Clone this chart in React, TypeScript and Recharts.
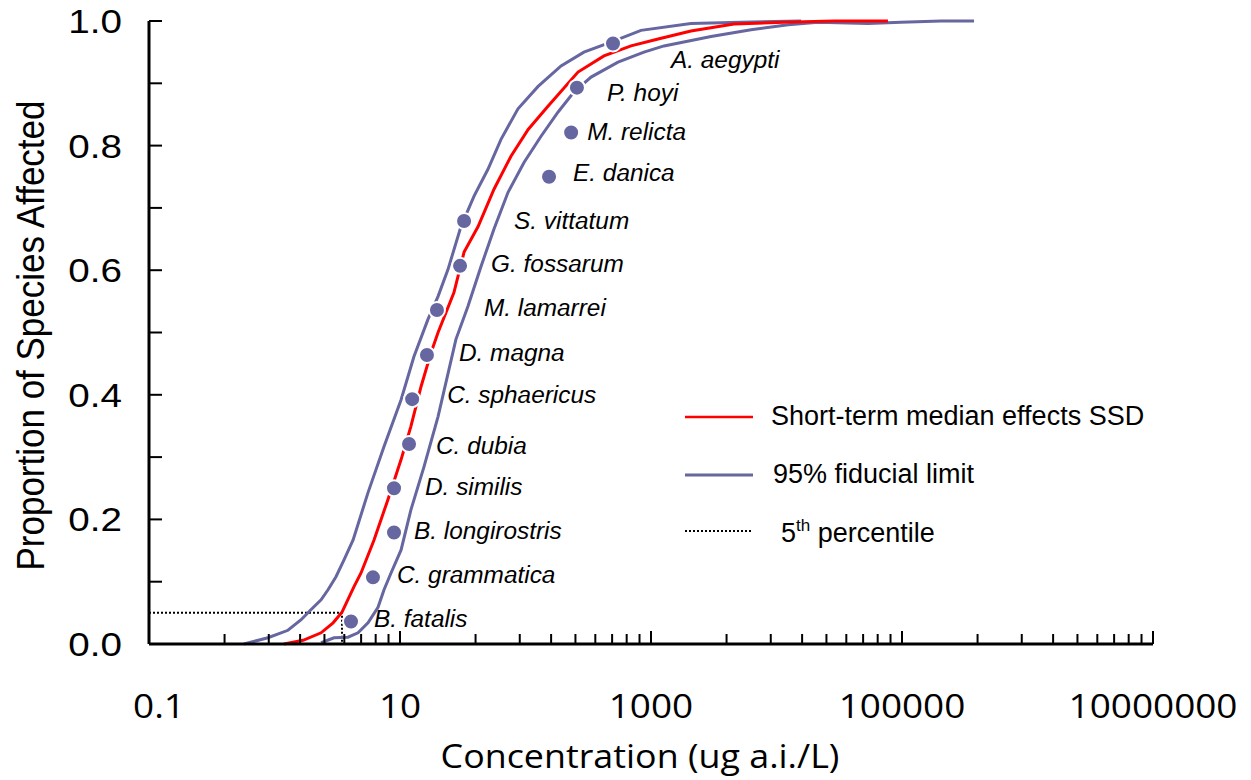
import {
  ComposedChart,
  Line,
  Scatter,
  XAxis,
  YAxis,
  Legend,
  Label,
} from "recharts";

// species toxicity points (ug a.i./L) and plotting positions
const speciesNames = [
  "B. fatalis",
  "C. grammatica",
  "B. longirostris",
  "D. similis",
  "C. dubia",
  "C. sphaericus",
  "D. magna",
  "M. lamarrei",
  "G. fossarum",
  "S. vittatum",
  "E. danica",
  "M. relicta",
  "P. hoyi",
  "A. aegypti",
];
const speciesConc = [4.07, 6.09, 8.96, 8.96, 11.8, 12.5, 16.4, 19.7, 30.1, 32.4, 154, 231, 257, 498];
const speciesFrac = [0.036, 0.107, 0.179, 0.25, 0.321, 0.393, 0.464, 0.536, 0.607, 0.679, 0.75, 0.821, 0.893, 0.964];

// label offsets from each point (px)
const labelDx = [23, 24, 20, 31, 27, 35, 32, 47, 31, 50, 24, 16, 30, 58];
const labelDy = [-3, -2, -1, -1, 2, -4, -2, -2, -2, 0, -4, -1, 5, 17];

// median SSD curve
const medianConc = [1.19, 1.69, 2.35, 2.93, 3.45, 4.3, 4.89, 6.21, 8.02, 10.2, 12.2, 14.7, 17.7, 20.1, 26.9, 32.4, 41.9, 56.1, 76.6, 105, 151, 262, 422, 693, 1140, 2080, 4590, 11500, 28700, 77300];
const medianFrac = [0, 0.006, 0.018, 0.034, 0.051, 0.092, 0.114, 0.167, 0.232, 0.296, 0.349, 0.413, 0.468, 0.5, 0.564, 0.629, 0.67, 0.73, 0.783, 0.826, 0.863, 0.918, 0.944, 0.96, 0.971, 0.984, 0.995, 0.998, 1.0, 1.0];

// fiducial limits
const leftConc = [0.571, 0.887, 1.28, 1.63, 1.95, 2.35, 2.67, 3.09, 3.58, 4.23, 5.56, 7.46, 10.2, 12.9, 16.7, 20.1, 24.1, 30.6, 38.9, 50.2, 63.8, 87.1, 126, 192, 292, 480, 832, 2080, 5210, 15700];
const leftFrac = [0, 0.01, 0.022, 0.039, 0.055, 0.071, 0.087, 0.108, 0.135, 0.167, 0.243, 0.317, 0.392, 0.461, 0.521, 0.558, 0.601, 0.67, 0.719, 0.762, 0.81, 0.859, 0.895, 0.928, 0.95, 0.966, 0.985, 0.996, 0.998, 1.0];

const rightConc = [2.35, 2.98, 3.85, 4.63, 5.56, 6.68, 7.46, 8.48, 10.2, 12.2, 15.5, 20.1, 27.9, 34.8, 44.2, 56.1, 72.6, 97.3, 133, 182, 243, 333, 546, 879, 1270, 3010, 6270, 12400, 21400, 53600, 98000, 205000, 375000];
const rightFrac = [0.002, 0.01, 0.011, 0.018, 0.034, 0.059, 0.087, 0.114, 0.151, 0.215, 0.284, 0.365, 0.489, 0.542, 0.606, 0.666, 0.725, 0.773, 0.815, 0.854, 0.886, 0.91, 0.934, 0.95, 0.96, 0.975, 0.986, 0.994, 0.998, 0.996, 0.998, 1.0, 1.0];

// 5th percentile (HC5)
const hc5Conc = 3.45;
const hc5Frac = 0.05;

const majorTicks = [0.1, 10, 1000, 100000, 10000000];
const minorFactors = [4, 9, 16, 25, 36, 49, 64, 81];
const yTicks = [0, 0.1, 0.2, 0.3, 0.4, 0.5, 0.6, 0.7, 0.8, 0.9, 1.0];

const BLUE = "#6666A0";
const RED = "#FF0000";

const toPoints = (xs: number[], ys: number[]) => xs.map((x, i) => ({ x, y: ys[i] }));

const medianData = toPoints(medianConc, medianFrac);
const leftData = toPoints(leftConc, leftFrac);
const rightData = toPoints(rightConc, rightFrac);
const speciesData = speciesConc.map((x, i) => ({ x, y: speciesFrac[i], name: speciesNames[i] }));
const hc5Data = [
  { x: 0.1, y: hc5Frac },
  { x: hc5Conc, y: hc5Frac },
  { x: hc5Conc, y: 0 },
];

const xTicks = [
  ...majorTicks,
  ...majorTicks.slice(0, -1).flatMap((m) => minorFactors.map((f) => m * f)),
].sort((a, b) => a - b);

const isMajor = (v: number) => majorTicks.some((m) => Math.abs(m - v) / m < 1e-6);

function XTick({ x, y, payload }: any) {
  const v = payload.value;
  const major = isMajor(v);
  const tx = x + (v === 0.1 ? 10 : 0);
  return (
    <g>
      <line x1={x} x2={x} y1={y} y2={y - (major ? 13 : 10)} stroke="#000" strokeWidth={2} />
      {major && (
        <text
          transform={`translate(${tx}, ${y + 74}) scale(1.12, 1)`}
          textAnchor="middle"
          fontFamily="Open Sans"
          fontSize={33}
          fill="#000"
        >
          {String(v)}
        </text>
      )}
    </g>
  );
}

function YTick({ x, y, payload }: any) {
  const v = payload.value;
  const labeled = Math.round(v * 10) % 2 === 0;
  return (
    <g>
      <line x1={x} x2={x + 13} y1={y} y2={y} stroke="#000" strokeWidth={2} />
      {labeled && (
        <text
          transform={`translate(${x - 27}, ${y + 12}) scale(1.17, 1)`}
          textAnchor="end"
          fontFamily="Liberation Sans"
          fontSize={33}
          fill="#000"
        >
          {v.toFixed(1)}
        </text>
      )}
    </g>
  );
}

function SpeciesDot(props: any) {
  const { cx, cy, payload } = props;
  const i = speciesNames.indexOf(payload.name);
  return (
    <g>
      <circle cx={cx} cy={cy} r={8} fill={BLUE} stroke="#fff" strokeWidth={2} />
      <text
        transform={`translate(${cx + labelDx[i]}, ${cy + labelDy[i] + 8}) scale(1.06, 1)`}
        fontFamily="Liberation Sans"
        fontStyle="italic"
        fontSize={23}
        fill="#000"
      >
        {payload.name}
      </text>
    </g>
  );
}

function LegendBox() {
  return (
    <svg width={520} height={170}>
      <line x1={15} x2={83} y1={27} y2={27} stroke={RED} strokeWidth={2.5} />
      <text x={101} y={35} fontFamily="Liberation Sans" fontSize={27} fill="#000">
        Short-term median effects SSD
      </text>
      <line x1={15} x2={83} y1={85} y2={85} stroke={BLUE} strokeWidth={3} />
      <text x={103} y={93} fontFamily="Liberation Sans" fontSize={27} fill="#000">
        95% fiducial limit
      </text>
      <line x1={15} x2={83} y1={141} y2={141} stroke="#000" strokeWidth={2} strokeDasharray="2 2" />
      <text x={111} y={152} fontFamily="Liberation Sans" fontSize={27} fill="#000">
        5
        <tspan fontSize={17} dy={-11}>
          th
        </tspan>
        <tspan dy={11}> percentile</tspan>
      </text>
    </svg>
  );
}

export default function App() {
  return (
    <div style={{ position: "absolute", left: 0, top: 0, width: 1251, height: 780, background: "#fff" }}>
      <ComposedChart width={1251} height={780} margin={{ top: 21, right: 98, bottom: 0, left: 0 }}>
        <XAxis
          dataKey="x"
          type="number"
          scale="log"
          domain={[0.1, 10000000]}
          ticks={xTicks}
          interval={0}
          allowDataOverflow
          height={136}
          tickSize={0}
          tickMargin={0}
          tick={<XTick />}
          axisLine={{ stroke: "#000", strokeWidth: 3 }}
        >
          <Label
            content={(props: any) => {
              const vb = props.viewBox;
              const cx = vb.x + vb.width / 2 - 11;
              const cy = vb.y + vb.height - 12;
              return (
                <text
                  transform={`translate(${cx}, ${cy}) scale(1.12, 1)`}
                  textAnchor="middle"
                  fontFamily="Open Sans"
                  fontSize={32}
                  fill="#000"
                >
                  Concentration (ug a.i./L)
                </text>
              );
            }}
          />
        </XAxis>
        <YAxis
          dataKey="y"
          type="number"
          domain={[0, 1]}
          ticks={yTicks}
          interval={0}
          width={149}
          tickSize={0}
          tickMargin={0}
          tick={<YTick />}
          axisLine={{ stroke: "#000", strokeWidth: 3 }}
        >
          <Label
            content={(props: any) => {
              const vb = props.viewBox;
              const cx = 30;
              const cy = vb.y + vb.height / 2 + 3;
              return (
                <text
                  transform={`translate(${cx}, ${cy}) scale(1.12, 1) rotate(-90)`}
                  textAnchor="middle"
                  dominantBaseline="central"
                  fontFamily="Liberation Sans"
                  fontSize={35}
                  fill="#000"
                >
                  Proportion of Species Affected
                </text>
              );
            }}
          />
        </YAxis>
        <Legend
          layout="vertical"
          align="center"
          verticalAlign="middle"
          wrapperStyle={{ left: 670, top: 390, width: 520, height: 170 }}
          content={() => <LegendBox />}
        />
        <Line
          data={hc5Data}
          dataKey="y"
          type="linear"
          stroke="#000"
          strokeWidth={2}
          strokeDasharray="2 2"
          dot={false}
          activeDot={false}
          isAnimationActive={false}
        />
        <Line
          data={leftData}
          dataKey="y"
          type="linear"
          stroke={BLUE}
          strokeWidth={3}
          dot={false}
          activeDot={false}
          isAnimationActive={false}
        />
        <Line
          data={rightData}
          dataKey="y"
          type="linear"
          stroke={BLUE}
          strokeWidth={3}
          dot={false}
          activeDot={false}
          isAnimationActive={false}
        />
        <Line
          data={medianData}
          dataKey="y"
          type="linear"
          stroke={RED}
          strokeWidth={3}
          dot={false}
          activeDot={false}
          isAnimationActive={false}
        />
        <Scatter data={speciesData} dataKey="y" shape={<SpeciesDot />} isAnimationActive={false} />
      </ComposedChart>
    </div>
  );
}
